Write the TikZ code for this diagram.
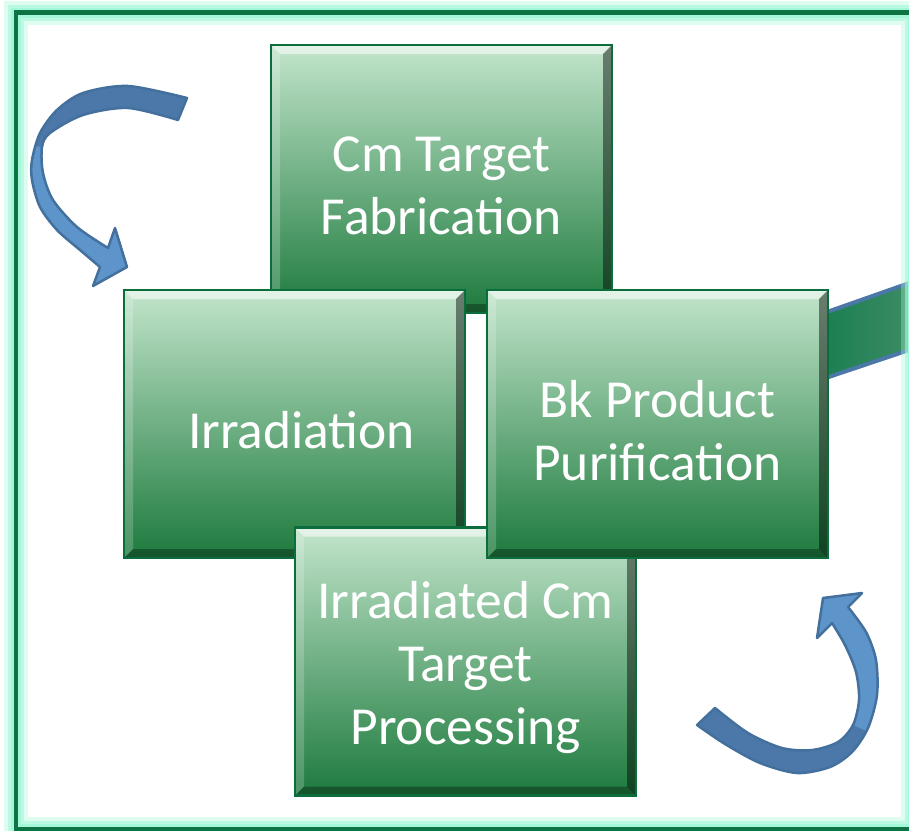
\documentclass[tikz,border=0pt]{standalone}
\usepackage{fontspec}
\setmainfont{Carlito}
\usetikzlibrary{calc}
\definecolor{cardtop}{HTML}{C2E5CB}
\definecolor{cardmid}{HTML}{589E6A}
\definecolor{cardbot}{HTML}{1D7A3D}
\definecolor{cardedge}{HTML}{0B6D3C}
\definecolor{frameline}{HTML}{0B7442}
\definecolor{mint}{HTML}{A5F7D9}
\definecolor{arrowlight}{HTML}{5D95CA}
\definecolor{arrowdark}{HTML}{4B78A8}
\definecolor{arrowedge}{HTML}{44709E}
\definecolor{bandL}{HTML}{0E7A4C}
\definecolor{bandR}{HTML}{3E8C64}
\tikzset{
  card/.style={draw=cardedge, line width=2.5pt, minimum width=341pt, minimum height=268pt,
    inner sep=0pt,
    top color=cardtop, middle color=cardmid, bottom color=cardbot,
    path picture={
      \fill[white,opacity=.55] (path picture bounding box.north west) -- (path picture bounding box.north east)
        -- ([shift={(-9pt,-9pt)}]path picture bounding box.north east) -- ([shift={(9pt,-9pt)}]path picture bounding box.north west) -- cycle;
      \fill[white,opacity=.2] (path picture bounding box.north west) -- (path picture bounding box.south west)
        -- ([shift={(9pt,9pt)}]path picture bounding box.south west) -- ([shift={(9pt,-9pt)}]path picture bounding box.north west) -- cycle;
      \fill[black,opacity=.45] (path picture bounding box.north east) -- (path picture bounding box.south east)
        -- ([shift={(-9pt,9pt)}]path picture bounding box.south east) -- ([shift={(-9pt,-9pt)}]path picture bounding box.north east) -- cycle;
      \fill[black,opacity=.3] (path picture bounding box.south west) -- (path picture bounding box.south east)
        -- ([shift={(-9pt,9pt)}]path picture bounding box.south east) -- ([shift={(9pt,9pt)}]path picture bounding box.south west) -- cycle;
    }},
  cardtext/.style={align=center, text=white, inner sep=0pt, font=\fontsize{53.5}{63}\selectfont},
  bandedge/.style={draw=arrowdark, line width=4pt},
  arrowline/.style={draw=arrowedge, line width=2.5pt, line join=round}
}
\begin{document}
\begin{tikzpicture}[x=1pt,y=-1pt]
\useasboundingbox (0,0) rectangle (909,830);
\fill[white] (0,0) rectangle (909,830);
% green band behind
\coordinate (b1) at (790,325);
\coordinate (b2) at (915,281);
\coordinate (b3) at (915,348);
\coordinate (b4) at (790,390);
\fill[left color=bandL, right color=bandR] (b1) -- (b2) -- (b3) -- (b4) -- cycle;
\draw[bandedge] (b1) -- (b2);
\draw[bandedge] (b4) -- (b3);
% frame
\coordinate (f1) at (16,12.5);
\coordinate (f2) at (913,829);
\draw[mint, opacity=.35, line width=24pt] (f1) rectangle (f2);
\draw[mint, opacity=.6, line width=16pt] (f1) rectangle (f2);
\draw[mint, line width=10pt] (f1) rectangle (f2);
\draw[frameline, line width=4.5pt] (f1) rectangle (f2);
% cards
\node[card] (fab) at (441.5,179) {};
\node[cardtext] (fabT) at ([yshift=-7pt]fab.center) {Cm Target\\Fabrication};
\node[card] (irr) at (294.5,424) {};
\node[cardtext] (irrT) at ([shift={(7pt,-6pt)}]irr.center) {Irradiation};
\node[card] (proc) at (465.5,661.5) {};
\node[cardtext] (procT) at ([yshift=-6pt]proc.center) {Irradiated Cm\\Target\\Processing};
\node[card] (bk) at (657.5,424) {};
\node[cardtext] (bkT) at ([yshift=-7pt]bk.center) {Bk Product\\Purification};
% top-left curved arrow
\fill[arrowlight]
  plot[smooth] coordinates {(187,98) (128,86) (83,93) (57,110) (40,133) (32,160) (32,180) (40,207) (57,230) (80,250) (100,267)}
  -- (93,286) -- (127,267) -- (115,228) -- (108,248)
  -- plot[smooth] coordinates {(108,248) (77,227) (53,200) (43,173) (42,147) (50,133) (83,115) (128,108) (178,120)}
  -- cycle;
\fill[arrowdark]
  plot[smooth] coordinates {(187,98) (128,86) (83,93) (57,110) (40,133) (36,146)}
  -- plot[smooth] coordinates {(42,147) (50,133) (83,115) (128,108) (178,120)}
  -- cycle;
\draw[arrowline]
  plot[smooth] coordinates {(187,98) (128,86) (83,93) (57,110) (40,133) (32,160) (32,180) (40,207) (57,230) (80,250) (100,267)}
  -- (93,286) -- (127,267) -- (115,228) -- (108,248)
  -- plot[smooth] coordinates {(108,248) (77,227) (53,200) (43,173) (42,147) (50,133) (83,115) (128,108) (178,120)}
  -- cycle;
% bottom-right curved arrow
\fill[arrowlight]
  plot[smooth] coordinates {(697,725) (725,744) (760,763) (797,773) (830,767) (852,752) (868,728) (877,695) (876,660) (866,632) (848,607)}
  -- (862,593) -- (823,598) -- (817,638) -- (832,623)
  -- plot[smooth] coordinates {(832,623) (845,645) (856,672) (859,700) (853,725) (838,742) (812,750) (782,748) (748,733) (715,708)}
  -- cycle;
\fill[arrowdark]
  plot[smooth] coordinates {(697,725) (725,744) (760,763) (797,773) (830,767) (852,752) (866,731)}
  -- plot[smooth] coordinates {(853,725) (838,742) (812,750) (782,748) (748,733) (715,708)}
  -- cycle;
\draw[arrowline]
  plot[smooth] coordinates {(697,725) (725,744) (760,763) (797,773) (830,767) (852,752) (868,728) (877,695) (876,660) (866,632) (848,607)}
  -- (862,593) -- (823,598) -- (817,638) -- (832,623)
  -- plot[smooth] coordinates {(832,623) (845,645) (856,672) (859,700) (853,725) (838,742) (812,750) (782,748) (748,733) (715,708)}
  -- cycle;
\end{tikzpicture}
\end{document}
